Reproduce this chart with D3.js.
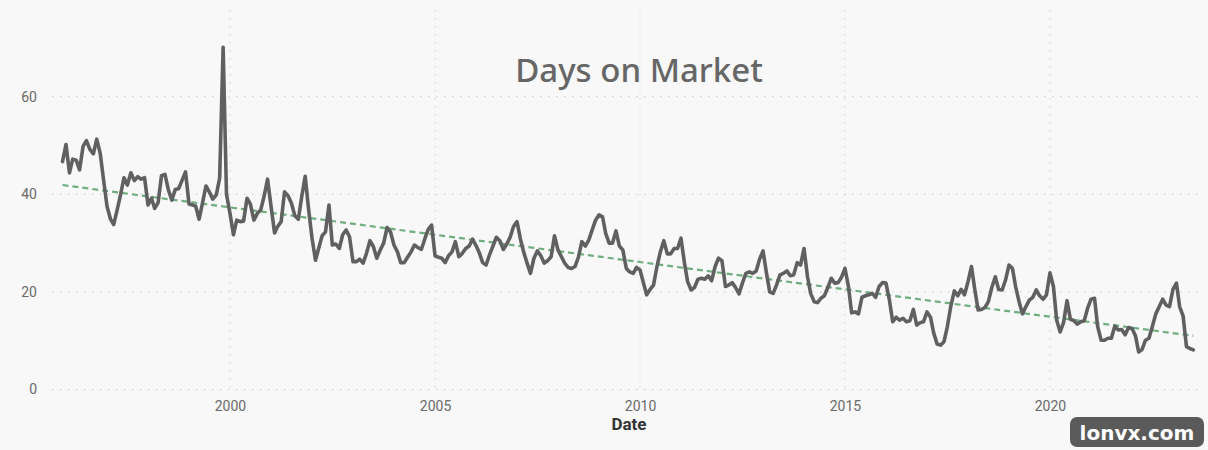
<!DOCTYPE html>
<html>
<head>
<meta charset="utf-8">
<script src="https://cdn.jsdelivr.net/npm/d3@7"></script>
<style>
  html, body { margin: 0; padding: 0; background: #f8f8f8; }
  svg { display: block; }
  .tick-label { font-family: Roboto, "Noto Sans", sans-serif; font-size: 14px; font-weight: 400; fill: #6a6a6a; }
</style>
</head>
<body>
<svg id="chart" width="1208" height="450"></svg>
<script>
// monthly series, first value is Dec 1995
const startMonth = '1995-12';
const daysOnMarket = [
  46.7, 50.2, 44.4, 47.2, 47, 45, 49.8, 51, 49.2, 48.3, 51.3, 48.4, 42.9, 37.5, 34.9, 33.8, 36.8, 39.9, 43.4, 41.9,
  44.4, 42.8, 43.6, 43.1, 43.4, 37.8, 39.2, 37.1, 38.3, 43.8, 44.1, 40.9, 38.8, 41, 41.2, 42.9, 44.6, 38, 37.8, 37.6, 34.9,
  38.2, 41.7, 40.5, 39, 39.9, 43.3, 70.1, 40, 36.1, 31.7, 34.7, 34.4, 34.5, 39.2, 38, 34.7, 36.1, 36.8, 39.7, 43.1,
  37.5, 32.1, 33.4, 34.4, 40.5, 39.7, 38.2, 35.6, 34.9, 39.5,
  43.7, 37, 31, 26.5, 28.9, 31.5, 32.3, 37.8, 29.6, 29.8, 28.9, 31.7, 32.7, 31.3, 26.2, 26.2, 26.7, 25.9, 27.9, 30.5,
  29.3, 26.9, 28.6, 30, 33.2, 32.3, 29.6, 28.2, 26, 26, 27.1, 28.2, 29.6, 29.1, 28.7, 30.8, 32.8, 33.7, 27.4, 27.1,
  26.9, 26, 27.4, 28.2, 30.3, 27.2, 27.9, 28.9, 29.4, 30.8,
  29.5, 27.9, 26, 25.5, 27.6, 29.4, 31.2, 30.5, 28.7, 29.8, 31.2, 33.4, 34.4, 30.8, 28.2, 25.9, 23.8, 26.9, 28.4, 27.4,
  25.9, 26.4, 27.2, 31.5, 28.6, 27.2, 25.9, 25, 24.8, 25.2, 27.1, 30.3, 29.4, 30.6, 32.7, 34.7, 35.8, 35.4, 32, 30, 30,
  32.5, 29.4, 28.6, 24.8, 24.1, 23.8, 25, 24.5, 21.8, 19.4, 20.5, 21.4, 25.2, 28.2, 30.5, 27.8, 27.8, 28.9, 28.9, 31,
  25.9, 22.1, 20.4, 20.9, 22.6, 22.8, 22.6, 23.3, 22.3, 25.2, 26.9, 26.4, 21.1, 21.4, 21.9, 20.9, 19.6, 21.8, 23.8, 24.1,
  23.8, 24.3,
  26.7, 28.4, 23.8, 20, 19.7, 21.4, 23.5, 23.8, 24.3, 23.3, 23.5, 26, 25.5, 28.9, 23.1, 19.7, 18, 17.8, 18.7, 19.2,
  20.9, 22.8, 21.8, 21.9, 23, 24.8, 21.1, 15.7, 15.9, 15.5, 18.9, 19.2, 19.4, 19.7, 18.9, 21.1, 21.9, 21.8, 18.3, 13.9,
  14.8,
  14.2, 14.6, 13.9, 14.1, 16.4, 13.2, 13.7, 13.9, 15.9, 14.8, 11.6, 9.3, 9.1, 9.8, 12.9, 17.1, 20.2, 19.2, 20.5, 19.4,
  22.1, 25.2, 20.7, 16.3, 16.4, 16.8, 18, 20.9, 23.1, 20.5, 20.4, 22.4, 25.5, 24.8, 21.1, 18, 15.5, 17, 18.3, 18.9,
  20.4, 19.2, 18.5, 19.4, 23.9, 21.1, 14.2, 11.8, 13.7, 18.2, 14.4, 14.1, 13.4, 13.9, 14.1, 16.6, 18.5, 18.7, 12.9, 10.1,
  10.1, 10.5, 10.5, 13, 12.2, 12.3, 11.2, 12.7, 12.5, 11, 7.7, 8.2, 10.1, 10.5, 12.9, 15.5, 17, 18.5, 17.3, 17,
  20.5, 21.8, 17, 15.1, 8.8, 8.4, 8.1
];
// dashed trend line, value at first and last month
const trendValues = [41.9, 11.0];
const yTicks = [0, 20, 40, 60];
const xTickYears = [2000, 2005, 2010, 2015, 2020];

const svg = d3.select('#chart');
const M = { left: 52, right: 1200, top: 10, bottom: 389.5 };

const parseMonth = d3.timeParse('%Y-%m');
const t0 = parseMonth(startMonth);
const data = daysOnMarket.map((v, i) => ({ date: d3.timeMonth.offset(t0, i), value: v }));
const tEnd = data[data.length - 1].date;

const x = d3.scaleTime().domain([t0, tEnd]).range([62.5, 1193.3]);
const y = d3.scaleLinear().domain([0, 60]).range([389.5, 96.7]);

// Grid (dotted)
const grid = svg.append('g');
grid.selectAll('.hgrid').data(yTicks).join('line')
  .attr('x1', M.left).attr('x2', M.right)
  .attr('y1', d => y(d)).attr('y2', d => y(d))
  .attr('stroke', '#c8c8c8').attr('stroke-width', 1).attr('stroke-dasharray', '1.5,6.5');
const xTickDates = xTickYears.map(yr => new Date(yr, 0, 1));
grid.selectAll('.vgrid').data(xTickDates).join('line')
  .attr('x1', d => x(d)).attr('x2', d => x(d))
  .attr('y1', M.top).attr('y2', M.bottom)
  .attr('stroke', '#cfcfcf').attr('stroke-width', 1).attr('stroke-dasharray', '1.5,6.5');

// Axes (labels only)
const xAxis = svg.append('g').attr('transform', `translate(0,${M.bottom + 6})`)
  .call(d3.axisBottom(x).tickValues(xTickDates).tickFormat(d3.timeFormat('%Y')).tickSize(0).tickPadding(6));
xAxis.select('.domain').remove();
xAxis.selectAll('text').attr('class', 'tick-label');

const yAxis = svg.append('g').attr('transform', `translate(${M.left - 9},0)`)
  .call(d3.axisLeft(y).tickValues(yTicks).tickSize(0).tickPadding(6));
yAxis.select('.domain').remove();
yAxis.selectAll('text').attr('class', 'tick-label');

// Trend
svg.append('line')
  .attr('x1', x(t0)).attr('y1', y(trendValues[0]))
  .attr('x2', x(tEnd)).attr('y2', y(trendValues[1]))
  .attr('stroke', '#6fae7f').attr('stroke-width', 2.2).attr('stroke-dasharray', '6,4');

// Line
const line = d3.line().x(d => x(d.date)).y(d => y(d.value));
svg.append('path').datum(data)
  .attr('d', line).attr('fill', 'none')
  .attr('stroke', '#606060').attr('stroke-width', 3.6)
  .attr('stroke-linejoin', 'round').attr('stroke-linecap', 'round');

// Title & axis title
svg.append('text').attr('x', 639).attr('y', 82).attr('text-anchor', 'middle')
  .style('font-family', '"Noto Sans", sans-serif').style('font-size', '33px').style('font-weight', 500)
  .attr('fill', '#666').text('Days on Market');

svg.append('text').attr('x', 629).attr('y', 430).attr('text-anchor', 'middle')
  .style('font-family', 'Roboto, sans-serif').style('font-size', '17px').style('font-weight', 700)
  .attr('fill', '#333').text('Date');

// Watermark
const wm = svg.append('g');
wm.append('rect').attr('x', 1070).attr('y', 417).attr('width', 134).attr('height', 30).attr('rx', 7)
  .attr('fill', '#5a5a5a');
wm.append('text').attr('x', 1137).attr('y', 440).attr('text-anchor', 'middle')
  .style('font-family', '"DejaVu Sans", sans-serif').style('font-size', '20px').style('font-weight', 700)
  .attr('fill', '#fff').text('lonvx.com');
</script>
</body>
</html>
